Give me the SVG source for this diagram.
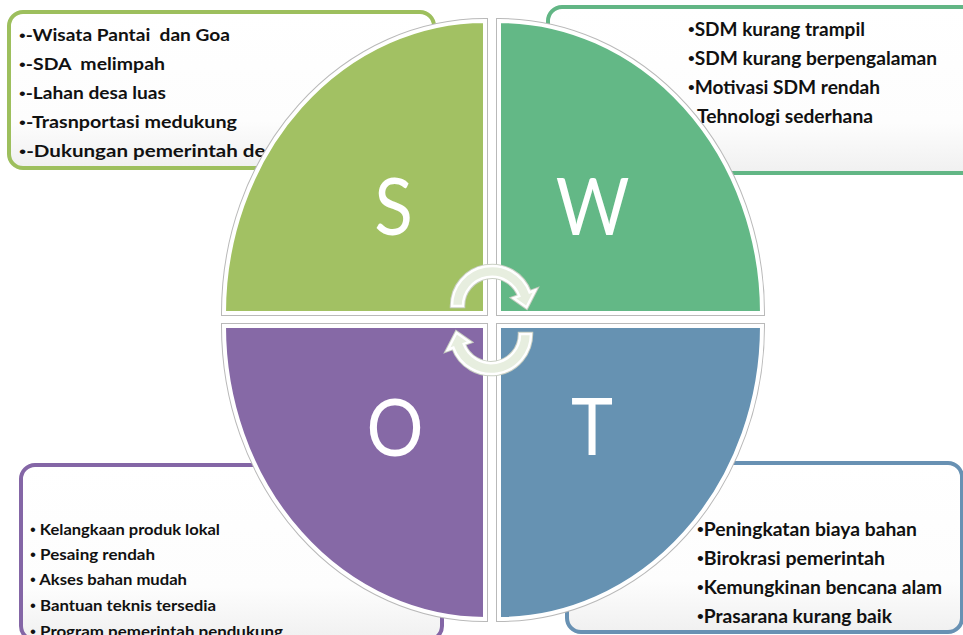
<svg xmlns="http://www.w3.org/2000/svg" width="963" height="635" viewBox="0 0 963 635">
<defs>
<linearGradient id="boxfill" x1="0" y1="0" x2="0" y2="1">
<stop offset="0" stop-color="#ffffff"/>
<stop offset="0.7" stop-color="#fdfdfd"/>
<stop offset="1" stop-color="#f0f0f0"/>
</linearGradient>
<style>
.box{fill:url(#boxfill);stroke-width:4}
.shadow{fill:none;stroke:#b9b9b9;stroke-width:6}
.quad{stroke:#ffffff;stroke-width:4}
.big{font-family:Lato,"Liberation Sans",sans-serif;font-size:80px;fill:#ffffff;text-anchor:middle}
.t{font-family:Lato,"Liberation Sans",sans-serif;font-weight:bold;font-size:18px;fill:#111111;white-space:pre}
.ts{font-size:17px}
.to{font-size:16px}
.b{font-family:"Liberation Sans",sans-serif;font-weight:normal}
.arrow{fill:#e7eedf;stroke:#ffffff;stroke-width:2.5}
.arrowsh{fill:none;stroke:#c9cfc3;stroke-width:4.5}
</style>
</defs>
<rect width="963" height="635" fill="#ffffff"/>

<g id="S">
<rect class="box" x="9" y="12" width="425" height="156" rx="14" stroke="#9dbf5d"/>
<text class="t ts" x="19" y="41" textLength="211" lengthAdjust="spacingAndGlyphs"><tspan class="b">•</tspan>-Wisata Pantai  dan Goa</text>
<text class="t ts" x="19" y="70" textLength="146" lengthAdjust="spacingAndGlyphs"><tspan class="b">•</tspan>-SDA  melimpah</text>
<text class="t ts" x="19" y="99" textLength="147" lengthAdjust="spacingAndGlyphs"><tspan class="b">•</tspan>-Lahan desa luas</text>
<text class="t ts" x="19" y="128" textLength="218" lengthAdjust="spacingAndGlyphs"><tspan class="b">•</tspan>-Trasnportasi medukung</text>
<text class="t ts" x="19" y="157" textLength="266" lengthAdjust="spacingAndGlyphs"><tspan class="b">•</tspan>-Dukungan pemerintah desa</text>
<path class="shadow" d="M 485 313 L 224 313 A 261 292 0 0 1 485 21 Z"/>
<path class="quad" fill="#a2c163" d="M 485 313 L 224 313 A 261 292 0 0 1 485 21 Z"/>
<text class="big" transform="translate(393.5,235) scale(0.89,1)">S</text>
</g>

<g id="W">
<rect class="box" x="548" y="7" width="440" height="166" rx="14" stroke="#62b685"/>
<text class="t" x="688" y="36" textLength="177" lengthAdjust="spacingAndGlyphs"><tspan class="b">•</tspan>SDM kurang trampil</text>
<text class="t" x="688" y="65" textLength="249" lengthAdjust="spacingAndGlyphs"><tspan class="b">•</tspan>SDM kurang berpengalaman</text>
<text class="t" x="688" y="94" textLength="192" lengthAdjust="spacingAndGlyphs"><tspan class="b">•</tspan>Motivasi SDM rendah</text>
<text class="t" x="697" y="123" textLength="176" lengthAdjust="spacingAndGlyphs">Tehnologi sederhana</text>
<path class="shadow" d="M 499 313 L 499 21 A 263 292 0 0 1 762 313 Z"/>
<path class="quad" fill="#63b886" d="M 499 313 L 499 21 A 263 292 0 0 1 762 313 Z"/>
<text class="big" transform="translate(592.5,235) scale(0.89,1)">W</text>
</g>

<g id="O">
<rect class="box" x="21" y="465" width="421" height="175" rx="14" stroke="#8466a6"/>
<text class="t to" x="30" y="535" textLength="190" lengthAdjust="spacingAndGlyphs"><tspan class="b">•</tspan> Kelangkaan produk lokal</text>
<text class="t to" x="30" y="560" textLength="125" lengthAdjust="spacingAndGlyphs"><tspan class="b">•</tspan> Pesaing rendah</text>
<text class="t to" x="30" y="585" textLength="157" lengthAdjust="spacingAndGlyphs"><tspan class="b">•</tspan> Akses bahan mudah</text>
<text class="t to" x="30" y="611" textLength="186" lengthAdjust="spacingAndGlyphs"><tspan class="b">•</tspan> Bantuan teknis tersedia</text>
<text class="t to" x="30" y="637" textLength="253" lengthAdjust="spacingAndGlyphs"><tspan class="b">•</tspan> Program pemerintah pendukung</text>
<path class="shadow" d="M 485 326 L 485 619 A 261 293 0 0 1 224 326 Z"/>
<path class="quad" fill="#8669a6" d="M 485 326 L 485 619 A 261 293 0 0 1 224 326 Z"/>
<text class="big" transform="translate(395,456) scale(0.89,1)">O</text>
</g>

<g id="T">
<rect class="box" x="567" y="463" width="395" height="169" rx="14" stroke="#6891b3"/>
<text class="t" x="697" y="536" textLength="220" lengthAdjust="spacingAndGlyphs"><tspan class="b">•</tspan>Peningkatan biaya bahan</text>
<text class="t" x="697" y="565" textLength="188" lengthAdjust="spacingAndGlyphs"><tspan class="b">•</tspan>Birokrasi pemerintah</text>
<text class="t" x="697" y="594" textLength="245" lengthAdjust="spacingAndGlyphs"><tspan class="b">•</tspan>Kemungkinan bencana alam</text>
<text class="t" x="697" y="623" textLength="195" lengthAdjust="spacingAndGlyphs"><tspan class="b">•</tspan>Prasarana kurang baik</text>
<path class="shadow" d="M 499 326 L 762 326 A 263 293 0 0 1 499 619 Z"/>
<path class="quad" fill="#6692b2" d="M 499 326 L 762 326 A 263 293 0 0 1 499 619 Z"/>
<text class="big" transform="translate(592,455) scale(0.89,1)">T</text>
</g>

<g id="connectors">
<path class="arrowsh" d="M 452 306 A 40 40 0 0 1 529.6 292.3 L 535.2 290.3 L 526.5 307.2 L 513.6 298.1 L 519.3 296.1 A 29 29 0 0 0 463 306 Z"/>
<path class="arrow" d="M 452 306 A 40 40 0 0 1 529.6 292.3 L 535.2 290.3 L 526.5 307.2 L 513.6 298.1 L 519.3 296.1 A 29 29 0 0 0 463 306 Z"/>
<path class="arrowsh" d="M 531 334 A 40 40 0 0 1 453.4 347.7 L 447.8 349.7 L 456.5 332.8 L 469.4 341.9 L 463.7 343.9 A 29 29 0 0 0 520 334 Z"/>
<path class="arrow" d="M 531 334 A 40 40 0 0 1 453.4 347.7 L 447.8 349.7 L 456.5 332.8 L 469.4 341.9 L 463.7 343.9 A 29 29 0 0 0 520 334 Z"/>
</g>
</svg>
